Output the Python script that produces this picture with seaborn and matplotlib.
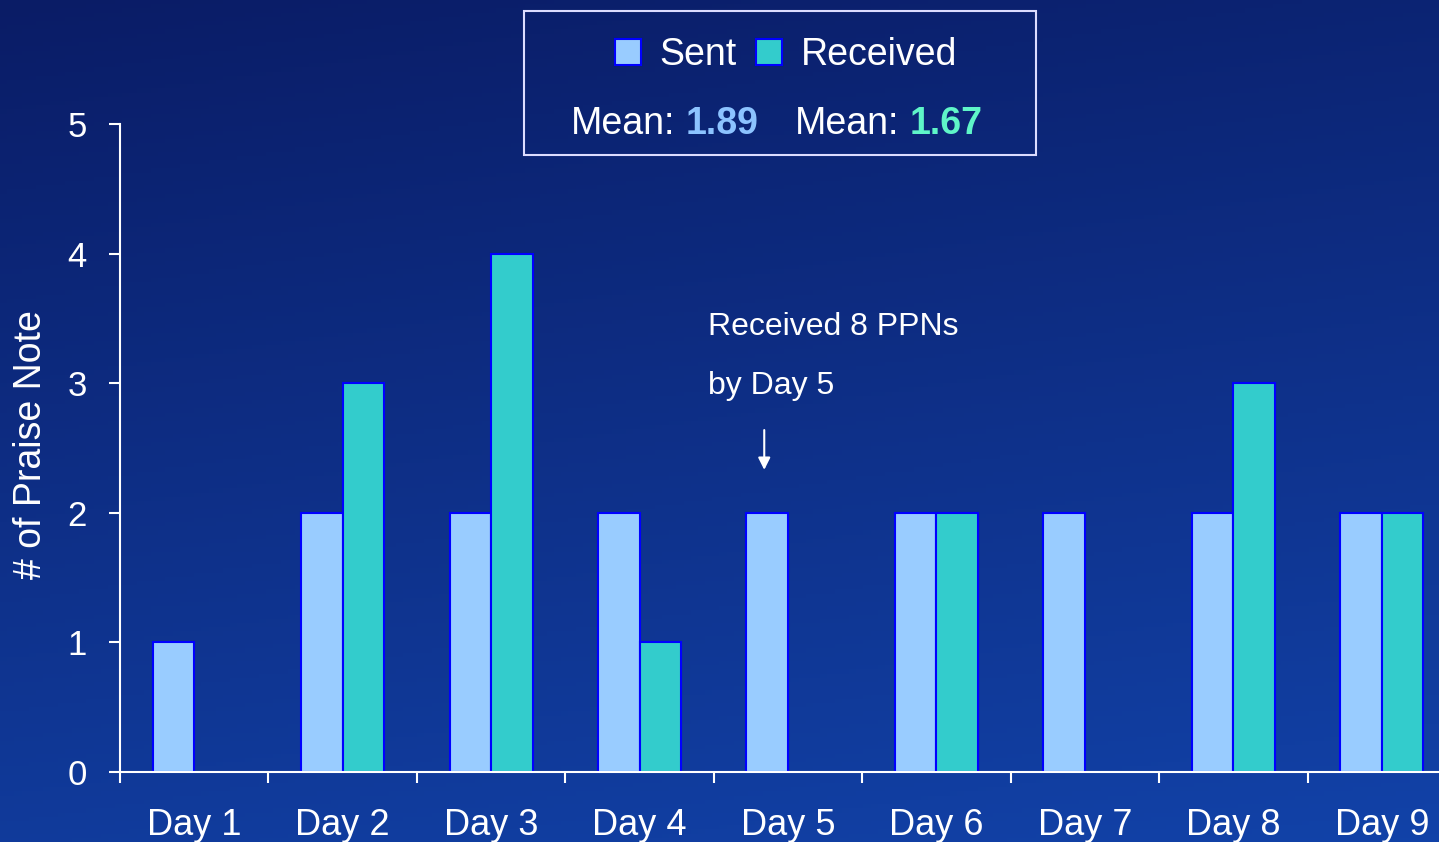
import numpy as np
import pandas as pd
import matplotlib
matplotlib.use("Agg")
import matplotlib.pyplot as plt
from matplotlib.patches import Patch, Rectangle
import seaborn as sns

# data
days = ["Day 1", "Day 2", "Day 3", "Day 4", "Day 5", "Day 6", "Day 7", "Day 8", "Day 9"]
sent = [1, 2, 2, 2, 2, 2, 2, 2, 2]
received = [0, 3, 4, 1, 0, 2, 0, 3, 2]
series_names = ["Sent", "Received"]
note_lines = ["Received 8 PPNs", "by Day 5"]

SENT_COLOR = "#99ccff"
RECV_COLOR = "#33cccc"
EDGE_COLOR = "#0000ff"
SENT_MEAN_COLOR = "#8cc3ff"
RECV_MEAN_COLOR = "#5ff5c8"

df = pd.DataFrame({
    "day": days * 2,
    "series": [series_names[0]] * len(days) + [series_names[1]] * len(days),
    "value": sent + received,
})

plt.rcParams["font.family"] = ["Liberation Sans", "DejaVu Sans"]

W, H = 1439, 842
fig = plt.figure(figsize=(W / 100, H / 100), dpi=100)

# gradient background: dark navy top-left -> brighter blue bottom
bg = fig.add_axes([0, 0, 1, 1], zorder=-10)
yy, xx = np.mgrid[0:1:200j, 0:1:200j]
t = np.clip(0.8 * yy + 0.2 * xx, 0, 1)
top = np.array([0.04, 0.11, 0.40])
bot = np.array([0.07, 0.26, 0.66])
img = top[None, None, :] * (1 - t[..., None]) + bot[None, None, :] * t[..., None]
bg.imshow(img, aspect="auto", extent=[0, 1, 0, 1], origin="upper")
bg.axis("off")

ax = fig.add_axes([120 / W, 70 / H, 1336 / W, 648 / H])
ax.set_facecolor("none")

sns.barplot(data=df, x="day", y="value", hue="series", hue_order=series_names,
            palette=[SENT_COLOR, RECV_COLOR], width=0.56, edgecolor=EDGE_COLOR,
            linewidth=1.5, saturation=1, legend=False, ax=ax)

# nothing drawn for zero counts
for p in ax.patches:
    if p.get_height() == 0:
        p.set_visible(False)

ax.set_xlim(-0.5, len(days) - 0.5)
ax.set_ylim(0, 5)

for side in ["top", "right"]:
    ax.spines[side].set_visible(False)
for side in ["left", "bottom"]:
    ax.spines[side].set_color("white")
    ax.spines[side].set_linewidth(1.5)

# ticks at category boundaries, labels at category centres
ax.set_xticks(np.arange(len(days)) - 0.5)
ax.set_xticklabels([])
ax.set_xticks(np.arange(len(days)), minor=True)
ax.set_xticklabels(days, minor=True)
ax.tick_params(axis="x", which="major", direction="out", length=8, width=1.5, color="white")
ax.tick_params(axis="x", which="minor", length=0, pad=26, labelsize=26, labelcolor="white")
ax.set_yticks(range(0, 6))
ax.tick_params(axis="y", direction="out", length=8, width=1.5, color="white",
               pad=16, labelsize=25, labelcolor="white")

ax.set_xlabel("")
ax.set_ylabel("# of Praise Note", fontsize=27, color="white")
ax.yaxis.set_label_coords(-0.053, 0.505)

# annotation + arrow above Day 5 sent bar
ax.text(3.46, 3.43, note_lines[0], fontsize=23, color="white", va="center", ha="left")
ax.text(3.46, 2.98, note_lines[1], fontsize=23, color="white", va="center", ha="left")
ax.annotate("", xy=(3.84, 2.31), xytext=(3.84, 2.66),
            arrowprops=dict(arrowstyle="-|>", color="white", lw=1.5, mutation_scale=18))

# legend box
fig.add_artist(Rectangle((524 / W, 1 - 155 / H), 512 / W, 144 / H, transform=fig.transFigure,
                         fill=False, edgecolor="#dcdcff", linewidth=1.5))
handles = [Patch(facecolor=SENT_COLOR, edgecolor=EDGE_COLOR, linewidth=1.5),
           Patch(facecolor=RECV_COLOR, edgecolor=EDGE_COLOR, linewidth=1.5)]
ax.legend(handles, series_names, ncol=2, frameon=False, loc="center",
          bbox_to_anchor=(786 / W, 1 - 55 / H), bbox_transform=fig.transFigure,
          fontsize=27, labelcolor="white", handlelength=0.7, handleheight=0.7,
          handletextpad=0.5, columnspacing=0.5)

mean_sent = np.mean(sent)
mean_recv = np.mean(received)
base_y = 1 - 134 / H
fig.text(571 / W, base_y, "Mean:", fontsize=27, color="white", va="baseline")
fig.text(686 / W, base_y, f"{mean_sent:.2f}", fontsize=27, color=SENT_MEAN_COLOR,
         fontweight="bold", va="baseline")
fig.text(795 / W, base_y, "Mean:", fontsize=27, color="white", va="baseline")
fig.text(910 / W, base_y, f"{mean_recv:.2f}", fontsize=27, color=RECV_MEAN_COLOR,
         fontweight="bold", va="baseline")

fig.savefig("out.png", dpi=100)
